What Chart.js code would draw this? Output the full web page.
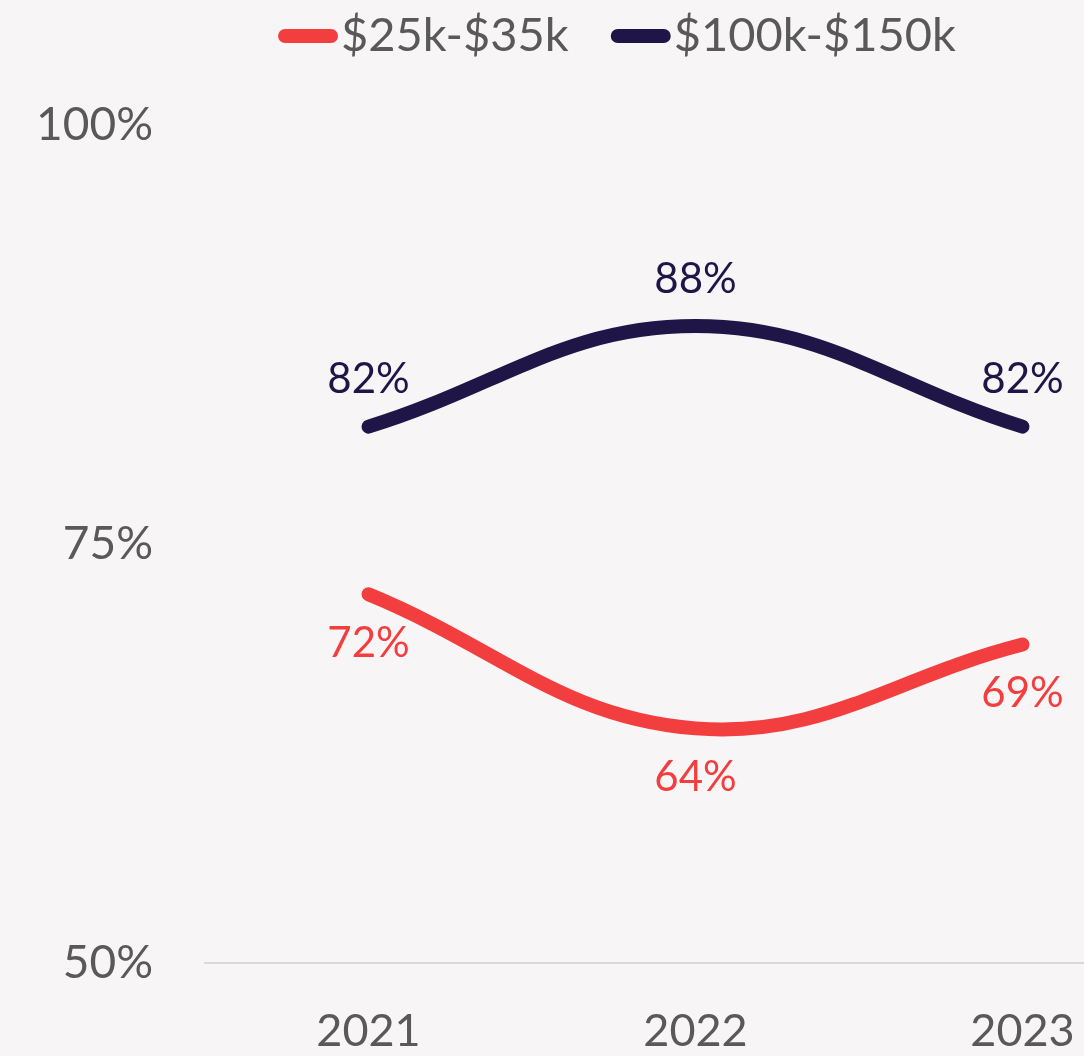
<!DOCTYPE html>
<html>
<head>
<meta charset="utf-8">
<script src="https://cdn.jsdelivr.net/npm/chart.js@4.4.1/dist/chart.umd.min.js"></script>
<style>
  html, body { margin: 0; padding: 0; overflow: hidden; background: #F7F5F5; }
  #wrap { position: absolute; left: 0; top: 0; width: 1186px; height: 1056px; }
</style>
</head>
<body>
<div id="wrap"><canvas id="c"></canvas></div>
<script>
const years = ['2021', '2022', '2023'];
const seriesNames = ['$25k-$35k', '$100k-$150k'];
const lowIncome = [72, 64, 69];
const highIncome = [82, 88, 82];
const yTicks = [50, 75, 100];

const RED = '#F23E3F';
const NAVY = '#1F1647';
const TEXT = '#595959';
const FONT = 'Lato, "Open Sans", sans-serif';

const labelPlugin = {
  id: 'valueLabels',
  afterDatasetsDraw(chart) {
    const ctx = chart.ctx;
    ctx.save();
    ctx.font = '42px ' + FONT;
    ctx.textAlign = 'center';
    ctx.textBaseline = 'middle';
    chart.data.datasets.forEach((ds, i) => {
      const meta = chart.getDatasetMeta(i);
      const off = ds.labelOffset;
      meta.data.forEach((pt, j) => {
        ctx.fillStyle = ds.borderColor;
        ctx.fillText(ds.data[j] + '%', pt.x, pt.y + off);
      });
    });
    ctx.restore();
  }
};

const legendPlugin = {
  id: 'customLegend',
  afterDraw(chart) {
    const ctx = chart.ctx;
    ctx.save();
    ctx.font = '47px ' + FONT;
    ctx.textBaseline = 'middle';
    ctx.textAlign = 'left';
    const lineLen = 46, cap = 7, gapText = 3, gapItem = 42;
    const items = chart.data.datasets.map(ds => ({ text: ds.label, color: ds.borderColor, w: ctx.measureText(ds.label).width }));
    let total = 0;
    items.forEach((it, i) => { total += lineLen + 2 * cap + gapText + it.w + (i < items.length - 1 ? gapItem : 0); });
    let x = 617 - total / 2;
    const y = 36;
    items.forEach(it => {
      ctx.strokeStyle = it.color;
      ctx.lineWidth = 14;
      ctx.lineCap = 'round';
      ctx.beginPath();
      ctx.moveTo(x + cap, y);
      ctx.lineTo(x + cap + lineLen, y);
      ctx.stroke();
      x += lineLen + 2 * cap + gapText;
      ctx.fillStyle = TEXT;
      ctx.fillText(it.text, x, y);
      x += it.w + gapItem;
    });
    ctx.restore();
  }
};

new Chart(document.getElementById('c'), {
  type: 'line',
  data: {
    labels: years,
    datasets: [
      { label: seriesNames[0], data: lowIncome, borderColor: RED, backgroundColor: RED, labelOffset: 49 },
      { label: seriesNames[1], data: highIncome, borderColor: NAVY, backgroundColor: NAVY, labelOffset: -47 }
    ]
  },
  options: {
    responsive: true,
    maintainAspectRatio: false,
    animation: false,
    devicePixelRatio: 1,
    layout: { padding: { top: 125, left: 0, right: 0, bottom: 0 } },
    elements: {
      line: { borderWidth: 14, tension: 0.4, borderCapStyle: 'round', borderJoinStyle: 'round', fill: false },
      point: { radius: 0, hoverRadius: 0 }
    },
    plugins: {
      legend: { display: false },
      tooltip: { enabled: false }
    },
    scales: {
      x: {
        offset: true,
        grid: { display: false, drawTicks: false },
        border: { display: true, color: '#D9D9D9', width: 2 },
        ticks: { color: TEXT, font: { family: FONT, size: 45 }, padding: 41, maxRotation: 0 },
        afterFit(s) { s.height = 93; }
      },
      y: {
        min: 50,
        max: 100,
        afterBuildTicks(s) { s.ticks = yTicks.map(v => ({ value: v })); },
        grid: { display: false, drawTicks: false },
        border: { display: false },
        ticks: { color: TEXT, font: { family: FONT, size: 46 }, padding: 52, callback: v => v + '%' },
        afterFit(s) { s.width = 205; }
      }
    }
  },
  plugins: [labelPlugin, legendPlugin]
});
</script>
</body>
</html>
